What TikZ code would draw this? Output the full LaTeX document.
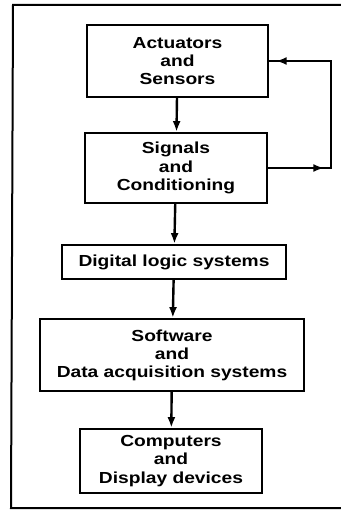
\documentclass[tikz,border=0pt]{standalone}
\usepackage{fontspec}
\newfontfamily\boxfont{Liberation Sans}[FakeStretch=1.2]
\usetikzlibrary{arrows.meta}
\tikzset{every picture/.style={
  >={Latex[length=8pt,width=6pt]}  % filled LaTeX style arrows.
  }
}
\tikzset{
  stage/.style={draw, line width=1.8pt, inner sep=0pt, align=center,
    font=\boxfont\bfseries\fontsize{12}{13.6}\selectfont},
  flow/.style={->, line width=1.8pt}
}

\begin{document}
\begin{tikzpicture}[x=0.75pt,y=-0.75pt]
  \useasboundingbox (0,0) rectangle (341,510);
  % outer frame (open on the right)
  \draw[line width=1.5pt] (341,5) -- (13,5) -- (11,508) -- (341,508);

  \node[stage, minimum width=181*0.75pt, minimum height=72*0.75pt] (act) at (177.5,61)
    {Actuators\\and\\Sensors};
  \node[stage, minimum width=182*0.75pt, minimum height=70*0.75pt] (sig) at (176,168)
    {Signals\\and\\Conditioning};
  \node[stage, minimum width=224*0.75pt, minimum height=34*0.75pt] (dig) at (174,262)
    {Digital logic systems};
  \node[stage, minimum width=264*0.75pt, minimum height=72*0.75pt] (soft) at (172,355)
    {Software\\and\\Data acquisition systems};
  \node[stage, minimum width=182*0.75pt, minimum height=64*0.75pt] (comp) at (171,461)
    {Computers\\and\\Display devices};

  \draw[flow] (act) -- (sig);
  \draw[flow] (sig) -- (dig);
  \draw[flow] (dig) -- (soft);
  \draw[flow] (soft) -- (comp);

  % feedback loop
  \coordinate (fbB) at (331,168);
  \coordinate (fbT) at (331,61);
  \draw[line width=1.8pt] (sig.east) -- (fbB) -- (fbT) -- (act.east);
  \draw[flow] (sig.east) -- (324,168);
  \draw[flow] (fbT) -- (276,61);
\end{tikzpicture}
\end{document}
